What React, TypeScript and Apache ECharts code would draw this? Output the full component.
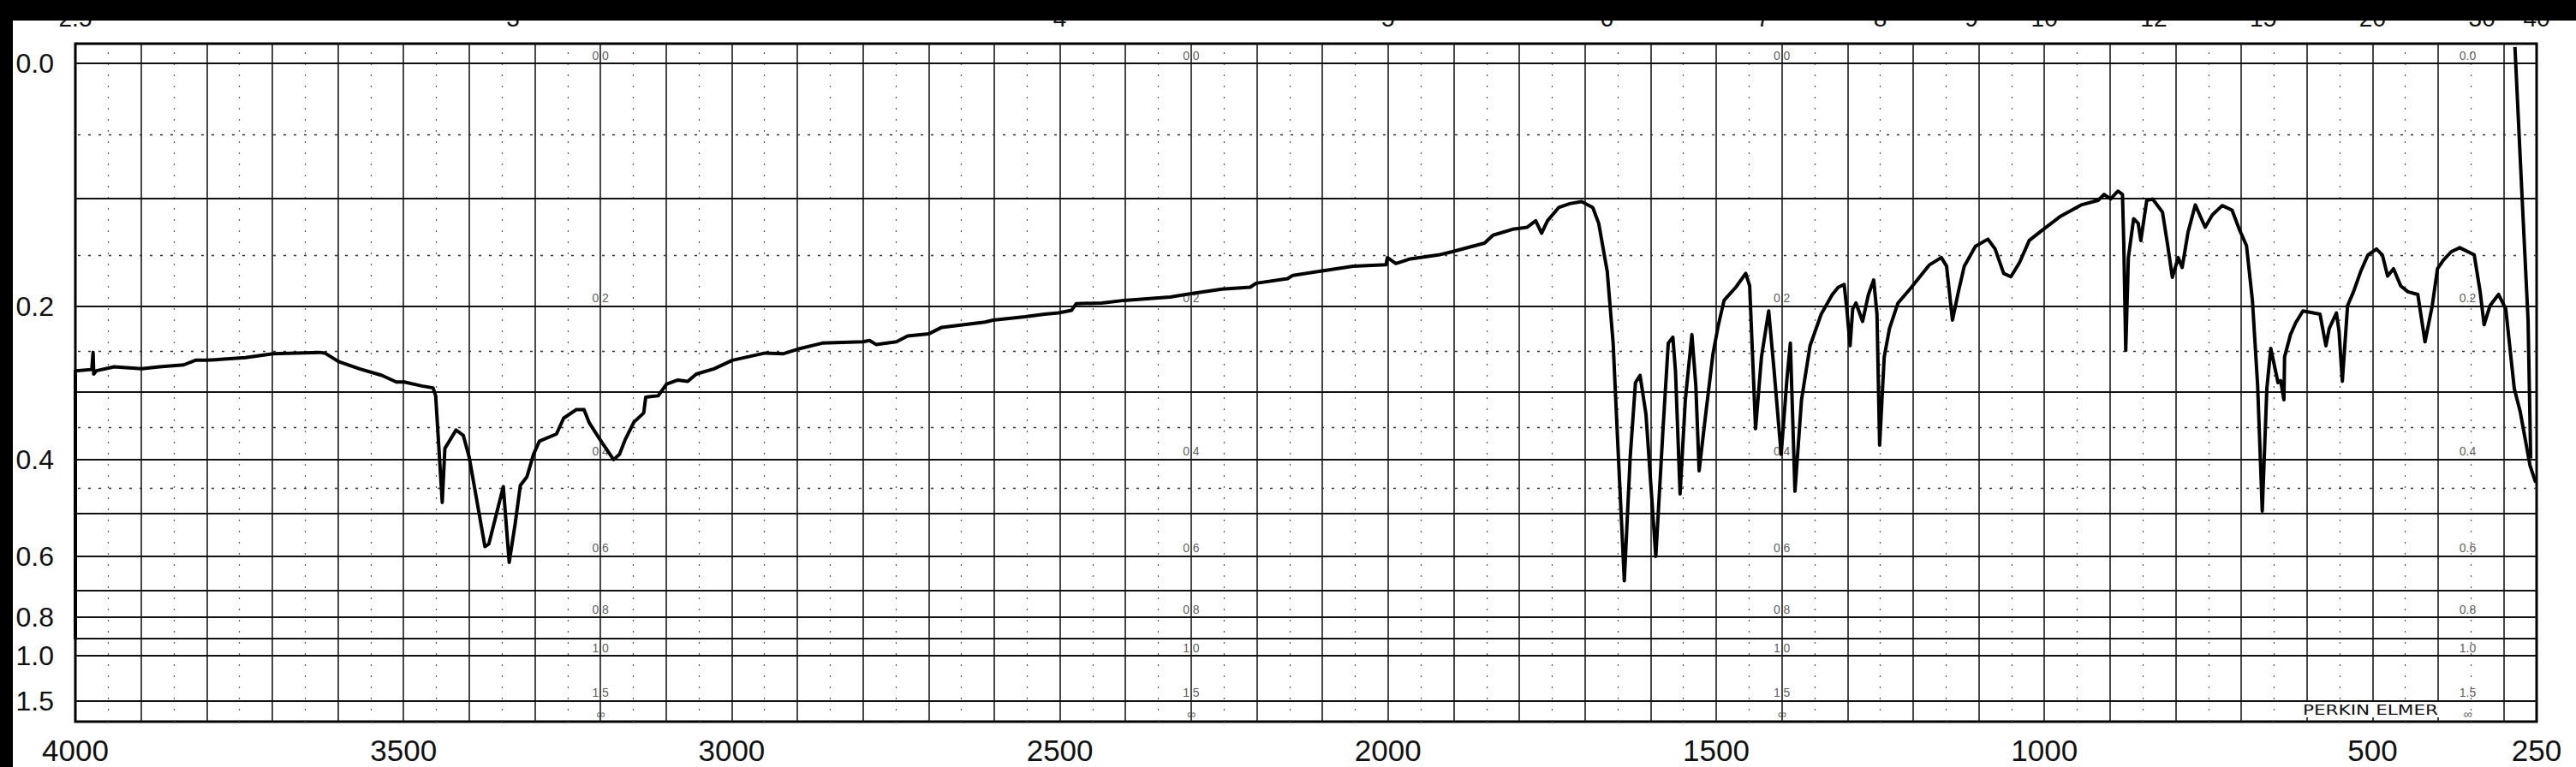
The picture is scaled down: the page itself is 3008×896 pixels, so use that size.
import React, { useEffect, useRef } from "react";
import * as echarts from "echarts";

// Bottom axis: wavenumber (cm-1)
const wavenumberLabels = [4000, 3500, 3000, 2500, 2000, 1500, 1000, 500, 250];
// Top axis: wavelength (micrometres)
const micronLabels = [2.5, 3, 4, 5, 6, 7, 8, 9, 10, 12, 15, 20, 30, 40];
// Left axis: absorbance labels
const absorbanceLabels = [0, 0.2, 0.4, 0.6, 0.8, 1.0, 1.5];
// Chart paper ruling
const absorbanceSolidLines = [0, 0.1, 0.2, 0.3, 0.4, 0.5, 0.6, 0.7, 0.8, 0.9, 1.0, 1.5];
const absorbanceDottedLines = [0.05, 0.15, 0.25, 0.35, 0.45];
const wavenumberSolidLines = [
  3900, 3800, 3700, 3600, 3500, 3400, 3300, 3200, 3100, 3000, 2900, 2800, 2700, 2600, 2500,
  2400, 2300, 2200, 2100, 2000, 1900, 1800, 1700, 1600, 1500, 1400, 1300, 1200, 1100, 1000,
  900, 800, 700, 600, 500, 400, 300,
];
const wavenumberDottedLines = [
  3950, 3850, 3750, 3650, 3550, 3450, 3350, 3250, 3150, 3050, 2950, 2850, 2750, 2650, 2550,
  2450, 2350, 2250, 2150, 2050, 1950, 1850, 1750, 1650, 1550, 1450, 1350, 1250, 1150, 1050,
  950, 850, 750, 650, 550, 450, 350,
];
// Small printed absorbance labels on the paper
const paperLabelColumns = [3200, 2300, 1400, 355];
const paperLabelTexts = ["0.0", "0.2", "0.4", "0.6", "0.8", "1.0", "1.5", "\u221e"];
const paperLabelAbsorbance = [0, 0.2, 0.4, 0.6, 0.8, 1.0, 1.5, Infinity];

// Spectrum trace: [wavenumber cm-1, transmittance %]
const spectrum = [
  [4000, 12.6], [4000, 53.3], [3975, 53.5], [3973, 56.1], [3972, 52.8], [3968, 53.3],
  [3941, 53.9], [3899, 53.6], [3872, 53.9], [3835, 54.2], [3817, 54.9], [3799, 54.9],
  [3741, 55.3], [3699, 55.9], [3628, 56.1], [3620, 56.0], [3599, 54.7], [3567, 53.6],
  [3533, 52.6], [3511, 51.6], [3499, 51.6], [3472, 51.0], [3455, 50.7], [3451, 49.5],
  [3441, 33.3], [3437, 41.5], [3420, 44.3], [3409, 43.5], [3400, 40.2], [3376, 26.6],
  [3370, 27.0], [3348, 35.7], [3339, 24.2], [3330, 30.0], [3322, 35.9], [3312, 37.2],
  [3302, 40.6], [3293, 42.6], [3267, 43.7], [3256, 46.1], [3237, 47.4], [3225, 47.4],
  [3217, 45.4], [3201, 42.9], [3180, 39.8], [3171, 40.6], [3162, 42.9], [3149, 45.5],
  [3134, 46.9], [3131, 49.3], [3112, 49.5], [3099, 51.3], [3082, 51.9], [3067, 51.7],
  [3054, 52.8], [3027, 53.6], [2999, 54.9], [2949, 56.0], [2921, 55.9], [2899, 56.6],
  [2862, 57.5], [2800, 57.7], [2790, 57.9], [2780, 57.3], [2749, 57.7], [2732, 58.6],
  [2700, 58.9], [2680, 59.9], [2614, 60.7], [2602, 61.0], [2553, 61.5], [2523, 61.9],
  [2502, 62.1], [2482, 62.5], [2475, 63.5], [2436, 63.6], [2402, 64.0], [2332, 64.5],
  [2302, 65.0], [2253, 65.7], [2210, 66.0], [2201, 66.6], [2153, 67.3], [2145, 67.8],
  [2105, 68.4], [2053, 69.2], [2003, 69.4], [2001, 70.5], [1988, 69.6], [1966, 70.3],
  [1923, 70.9], [1902, 71.4], [1853, 72.7], [1840, 73.9], [1810, 74.8], [1788, 75.1],
  [1775, 76.1], [1766, 74.2], [1757, 76.1], [1740, 78.1], [1723, 78.7], [1705, 79.0],
  [1688, 78.1], [1679, 75.7], [1666, 68.4], [1657, 57.5], [1651, 44.5], [1640, 21.4],
  [1631, 40.2], [1623, 51.5], [1616, 52.6], [1607, 46.7], [1592, 25.1], [1581, 44.5],
  [1573, 57.5], [1566, 58.4], [1562, 53.2], [1555, 34.6], [1547, 48.9], [1537, 58.8],
  [1531, 51.0], [1526, 38.1], [1516, 46.7], [1505, 55.8], [1497, 60.1], [1488, 64.0],
  [1470, 66.0], [1455, 68.1], [1449, 66.2], [1440, 44.5], [1431, 55.4], [1420, 62.4],
  [1412, 53.6], [1401, 40.6], [1392, 52.3], [1387, 57.5], [1380, 35.0], [1370, 48.9],
  [1357, 57.1], [1340, 61.9], [1323, 64.9], [1314, 66.0], [1305, 66.4], [1301, 62.7],
  [1296, 57.1], [1292, 62.7], [1287, 63.6], [1277, 60.8], [1268, 64.9], [1260, 67.1],
  [1255, 61.9], [1251, 42.0], [1244, 55.4], [1236, 59.7], [1223, 63.6], [1204, 65.8],
  [1192, 67.3], [1175, 69.4], [1157, 70.5], [1149, 69.2], [1140, 61.0], [1131, 65.3],
  [1122, 69.2], [1105, 72.2], [1086, 73.3], [1075, 71.8], [1062, 68.1], [1051, 67.6],
  [1038, 69.7], [1023, 73.1], [1004, 74.6], [975, 76.8], [944, 78.5], [918, 79.2],
  [909, 80.1], [899, 79.4], [888, 80.6], [881, 80.1], [879, 72.7], [876, 56.4],
  [872, 70.5], [864, 76.4], [857, 75.7], [853, 73.1], [844, 79.2], [835, 79.4],
  [820, 77.4], [812, 72.3], [805, 67.5], [796, 70.5], [790, 69.0], [781, 74.4],
  [770, 78.5], [755, 75.1], [744, 77.0], [729, 78.4], [714, 77.7], [703, 74.8],
  [692, 72.3], [683, 64.0], [675, 51.0], [668, 32.0], [661, 50.6], [655, 56.7],
  [644, 51.5], [640, 51.8], [635, 48.9], [634, 55.4], [625, 58.8], [617, 60.6],
  [606, 62.4], [580, 61.9], [571, 57.1], [566, 59.7], [555, 62.1], [551, 59.3],
  [546, 51.7], [538, 63.2], [529, 65.3], [518, 68.4], [507, 70.9], [494, 71.8],
  [485, 70.9], [477, 67.7], [468, 68.8], [457, 66.2], [446, 65.3], [431, 64.9],
  [420, 57.7], [409, 63.2], [401, 68.8], [392, 70.1], [380, 71.4], [367, 72.0],
  [345, 70.9], [336, 65.3], [330, 60.3], [321, 63.2], [308, 64.9], [297, 62.7],
  [284, 50.6], [275, 47.1], [260, 38.9], [252, 36.5],
];
// Pen return stroke at the end of the scan
const penReturn = [[283, 102.5], [272, 79.4], [263, 61.0], [259, 40.0]];

const toT = (a: number) => (a === Infinity ? 0 : 100 * Math.pow(10, -a));

const FONT = "'Liberation Sans', Arial, sans-serif";

export default function App() {
  const ref = useRef<HTMLDivElement>(null);
  useEffect(() => {
    if (!ref.current) return;
    const chart = echarts.init(ref.current, null, { renderer: "svg" });

    const gridLines: any[] = [];
    wavenumberSolidLines.forEach((v) =>
      gridLines.push({ xAxis: v, lineStyle: { color: "#1a1a1a", width: 1.6, type: "solid" } })
    );
    wavenumberDottedLines.forEach((v) =>
      gridLines.push({ xAxis: v, lineStyle: { color: "#555", width: 1.2, type: [2, 11] } })
    );
    absorbanceSolidLines.forEach((a) =>
      gridLines.push({ yAxis: toT(a), lineStyle: { color: "#111", width: 2, type: "solid" } })
    );
    absorbanceDottedLines.forEach((a) =>
      gridLines.push({ yAxis: toT(a), lineStyle: { color: "#333", width: 1.4, type: [3, 9] } })
    );

    const paperLabels: any[] = [];
    paperLabelColumns.forEach((col) =>
      paperLabelTexts.forEach((txt, i) =>
        paperLabels.push({ name: txt, value: [col, toT(paperLabelAbsorbance[i])] })
      )
    );

    const option: any = {
      animation: false,
      backgroundColor: "#ffffff",
      grid: {
        left: 88,
        right: 46,
        top: 51,
        bottom: 53,
        show: true,
        borderColor: "#000",
        borderWidth: 3,
        backgroundColor: "#fff",
      },
      xAxis: [
        {
          type: "value",
          min: 250,
          max: 4000,
          inverse: true,
          position: "bottom",
          axisLine: { show: false },
          axisTick: { show: false },
          splitLine: { show: false },
          axisLabel: {
            customValues: wavenumberLabels,
            showMinLabel: true,
            showMaxLabel: true,
            fontSize: 35,
            lineHeight: 35,
            fontFamily: FONT,
            color: "#111",
            margin: 16,
            formatter: (v: number) => String(Math.round(v)),
          },
        },
        {
          type: "value",
          min: 250,
          max: 4000,
          inverse: true,
          position: "top",
          axisLine: { show: false },
          axisTick: { show: false },
          splitLine: { show: false },
          axisLabel: {
            customValues: micronLabels.map((m) => 10000 / m),
            showMinLabel: true,
            showMaxLabel: true,
            fontSize: 28,
            fontFamily: FONT,
            color: "#111",
            margin: 16,
            formatter: (v: number) => String(Math.round((10000 / v) * 10) / 10),
          },
        },
      ],
      yAxis: {
        type: "value",
        min: 0,
        max: 103,
        axisLine: { show: false },
        axisTick: { show: false },
        splitLine: { show: false },
        axisLabel: {
          customValues: absorbanceLabels.map(toT),
          fontSize: 32,
          fontFamily: FONT,
          color: "#111",
          margin: 25,
          formatter: (v: number) => Math.abs(-Math.log10(v / 100)).toFixed(1),
        },
      },
      series: [
        {
          type: "scatter",
          name: "paper",
          silent: true,
          z: 2,
          symbolSize: 1,
          itemStyle: { color: "rgba(0,0,0,0)" },
          data: paperLabels,
          label: {
            show: true,
            position: "top",
            distance: 2,
            formatter: "{b}",
            fontSize: 14,
            fontFamily: FONT,
            color: "#333",
          },
          markLine: {
            silent: true,
            symbol: ["none", "none"],
            label: { show: false },
            z: 1,
            data: gridLines,
          },
        },
        {
          type: "line",
          name: "spectrum",
          silent: true,
          z: 5,
          showSymbol: false,
          symbol: "none",
          lineStyle: { color: "#000", width: 4, join: "round", cap: "round" },
          data: spectrum,
        },
        {
          type: "line",
          name: "penReturn",
          silent: true,
          z: 5,
          showSymbol: false,
          symbol: "none",
          lineStyle: { color: "#000", width: 4 },
          data: penReturn,
        },
      ],
      graphic: [
        {
          type: "rect",
          z: 100,
          silent: true,
          shape: { x: 0, y: 0, width: 3008, height: 24 },
          style: { fill: "#000" },
        },
        {
          type: "rect",
          z: 100,
          silent: true,
          shape: { x: 0, y: 0, width: 15, height: 896 },
          style: { fill: "#000" },
        },
        {
          type: "text",
          z: 50,
          silent: true,
          x: 2768,
          y: 829,
          scaleX: 1.35,
          style: {
            text: "PERKIN ELMER",
            font: "16px 'DejaVu Sans', sans-serif",
            fill: "#111",
            backgroundColor: "#fff",
            padding: [1, 3, 1, 3],
            textAlign: "center",
            textVerticalAlign: "middle",
            align: "center",
            verticalAlign: "middle",
          },
        },
      ],
    };
    chart.setOption(option);
    return () => chart.dispose();
  }, []);
  return (
    <div
      ref={ref}
      style={{ position: "fixed", left: 0, top: 0, width: 3008, height: 896, background: "#fff" }}
    />
  );
}
